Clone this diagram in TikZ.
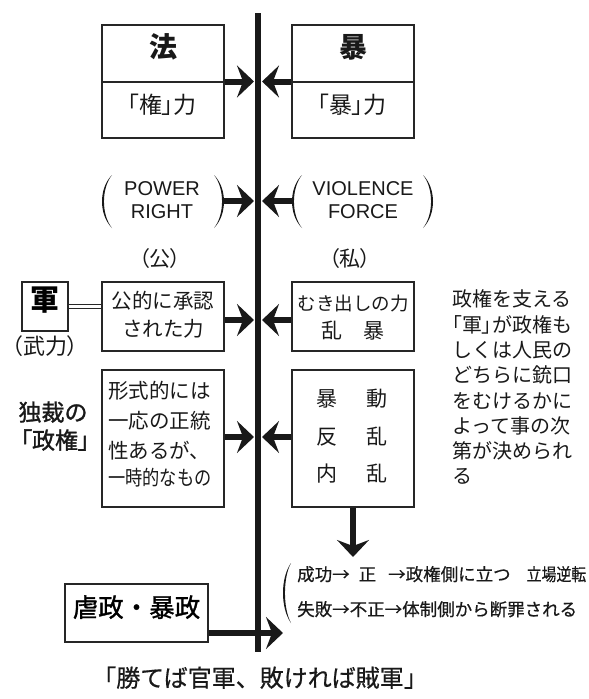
\documentclass[tikz,border=0pt]{standalone}
\usepackage{fontspec}
\setmainfont{Noto Sans CJK JP}
\newfontfamily\jp{Noto Sans CJK JP}
\newfontfamily\jpp{Noto Sans CJK JP}[RawFeature=+palt]
\newfontfamily\jpm{Noto Sans CJK JP}[FakeBold=1.3]
\newfontfamily\jpmp{Noto Sans CJK JP}[FakeBold=1.3, RawFeature=+palt]
\newfontfamily\jpl{Noto Sans CJK JP}[FakeBold=0.6]
\newfontfamily\lat{Liberation Sans}
\usetikzlibrary{arrows.meta}
\newcommand\fs[1]{\fontsize{#1}{#1}\selectfont}
% left paren: #1 = leftmost x, #2 = width, #3 = top y, #4 = bottom y
\newcommand\myLP[4]{%
  \fill[black!90] (#1+#2,#3) .. controls (#1-#2/3,{#3+(#4-#3)*0.25}) and (#1-#2/3,{#3+(#4-#3)*0.75}) .. (#1+#2,#4)
    .. controls (#1+2.6-#2/3,{#3+(#4-#3)*0.75}) and (#1+2.6-#2/3,{#3+(#4-#3)*0.25}) .. cycle;}
\newcommand\myRP[4]{%
  \fill[black!90] (#1-#2,#3) .. controls (#1+#2/3,{#3+(#4-#3)*0.25}) and (#1+#2/3,{#3+(#4-#3)*0.75}) .. (#1-#2,#4)
    .. controls (#1-2.6+#2/3,{#3+(#4-#3)*0.75}) and (#1-2.6+#2/3,{#3+(#4-#3)*0.25}) .. cycle;}
\tikzset{
  box/.style={draw=black!85, line width=1.2pt, inner sep=0pt},
  arr/.style={draw=black!90, line width=6pt, -{Stealth[length=17pt,width=32pt,inset=6pt]}},
  tx/.style={inner sep=0pt, text height=0.88em, text depth=0.12em, text=black!90},
  mincho/.style={tx, font=\jp\fs{#1}},
  goth/.style={tx, font=\jp\bfseries\fs{#1}},
  latin/.style={tx, font=\lat\fs{#1}},
}
\begin{document}
\begin{tikzpicture}[x=1pt,y=-1pt]
\fill[white] (0,0) rectangle (589,699);
\useasboundingbox (0,0) rectangle (589,699);

% central vertical line
\coordinate (vt) at (258,13);
\coordinate (vb) at (258,652);
\draw[black!90, line width=6pt] (vt) -- (vb);

% ---- top boxes
\node[box, minimum width=122pt, minimum height=113pt] (hoL) at (163,81.5) {};
\draw[box, line width=2pt] (hoL.west) -- (hoL.east);
\node[goth=28] (ho) at (163,54) {法};
\node[tx, font=\jpp\fs{23}] (ken) at (162,110) {「権」力};

\node[box, minimum width=122pt, minimum height=113pt] (hoR) at (353,81.5) {};
\draw[box, line width=2pt] (hoR.west) -- (hoR.east);
\node[goth=28] (bo) at (353,54) {暴};
\node[tx, font=\jpp\fs{23}] (boryoku) at (352,110) {「暴」力};

\draw[arr] (hoL.east) -- ([xshift=-4pt]vt |- hoL.east);
\draw[arr] (hoR.west) -- ([xshift=4pt]vt |- hoR.west);

% ---- POWER / VIOLENCE
\node[latin=20] (pw1) at (162,192) {POWER};
\node[latin=20] (pw2) at (162,215) {RIGHT};
\myLP{102}{10}{175}{228}
\myRP{224}{10}{175}{228}
\coordinate (pwE) at (224,201);
\draw[arr] (pwE) -- ([xshift=-4pt]vt |- pwE);

\node[latin=20] (vi1) at (363,192) {VIOLENCE};
\node[latin=20] (vi2) at (363,215) {FORCE};
\myLP{292}{10}{175}{228}
\myRP{433}{10}{175}{228}
\coordinate (viW) at (292,201);
\draw[arr] (viW) -- ([xshift=4pt]vt |- viW);

% ---- row 3
\node[tx, font=\jpp\fs{21}] (ko) at (160,263) {（公）};
\node[tx, font=\jpp\fs{21}] (wa) at (350,263) {（私）};

\node[box, minimum width=122pt, minimum height=69pt] (kou) at (163,316.5) {};
\node[mincho=20.5] (kou1) at (163,305) {公的に承認};
\node[mincho=20.5] (kou2) at (163,333) {された力};

\node[box, minimum width=46pt, minimum height=49pt, font=\jp\bfseries\fs{29}, text height=0.88em, text depth=0.12em] (gun) at (45,306.5) {軍};
\draw[black!85, line width=1.1pt, double, double distance=3pt] (gun.east) -- (gun.east -| kou.west);
\node[tx, font=\jpp\fs{22}] (buryoku) at (45,351) {（武力）};

\node[box, minimum width=122pt, minimum height=69pt] (shi) at (353,316.5) {};
\node[mincho=18.5] (shi1) at (353,307) {むき出しの力};
\node[mincho=21] (shi2) at (353,335) {乱　暴};

\draw[arr] ([yshift=-3.5pt]kou.east) -- ([xshift=-4pt,yshift=-3.5pt]vt |- kou.east);
\draw[arr] ([yshift=-3.5pt]shi.west) -- ([xshift=4pt,yshift=-3.5pt]vt |- shi.west);

% right paragraph
\foreach \s [count=\i from 0] in {政権を支える, {{\jpp 「軍」}が政権も}, しくは人民の, どちらに銃口, をむけるかに, よって事の次, 第が決められ, る}
  \node[mincho=20, anchor=west] (p\i) at (452,{303+\i*25.3}) {\s};

% ---- row 4
\node[box, minimum width=122pt, minimum height=137pt] (kei) at (163,438.5) {};
\node[mincho=20.5, anchor=west] (kei1) at (108,395) {形式的には};
\node[mincho=20.5, anchor=west] (kei2) at (108,425) {一応の正統};
\node[mincho=20.5, anchor=west] (kei3) at (108,455) {性あるが、};
\node[mincho=20.5, anchor=west] (kei4) at (108,482) {\scalebox{0.84}[1]{一時的なもの}};

\node[tx, font=\jpm\fs{23}] (dok1) at (53,417) {独裁の};
\node[tx, font=\jpmp\fs{23}] (dok2) at (55,445) {「政権」};

\node[box, minimum width=122pt, minimum height=137pt] (bou) at (353,438.5) {};
\node[mincho=21] (b1) at (327,403) {暴};
\node[mincho=21] (b2) at (377,403) {動};
\node[mincho=21] (b3) at (327,441) {反};
\node[mincho=21] (b4) at (377,441) {乱};
\node[mincho=21] (b5) at (327,478) {内};
\node[mincho=21] (b6) at (377,478) {乱};

\draw[arr] ([yshift=1.5pt]kei.east) -- ([xshift=-4pt,yshift=1.5pt]vt |- kei.east);
\draw[arr] ([yshift=1.5pt]bou.west) -- ([xshift=4pt,yshift=1.5pt]vt |- bou.west);

% down arrow
\coordinate (dn) at (353,557);
\draw[arr] (bou.south) -- (dn);

% outcome lines
\myLP{283}{8}{563}{623}
\node[tx, font=\jpl\fs{17.5}, anchor=west] (r1) at (297,577) {成功→\hspace{9pt}正\hspace{12pt}→政権側に立つ\hspace{16pt}\scalebox{0.85}[1]{立場逆転}};
\node[tx, font=\jpl\fs{17.5}, anchor=west] (r2) at (297,612) {失敗→不正→体制側から断罪される};

% tyranny
\node[box, minimum width=143pt, minimum height=58pt, font=\jpm\fs{25.5}, text height=0.88em, text depth=0.12em] (gyaku) at (136.5,613) {虐政・暴政};
\coordinate (gk) at (283,633);
\draw[arr] ([yshift=-20pt]gyaku.east) -- (gk);

% bottom proverb
\node[tx, font=\jpl\fs{24}] (kachi) at (260,683) {「勝てば官軍、敗ければ賊軍」};
\end{tikzpicture}
\end{document}
